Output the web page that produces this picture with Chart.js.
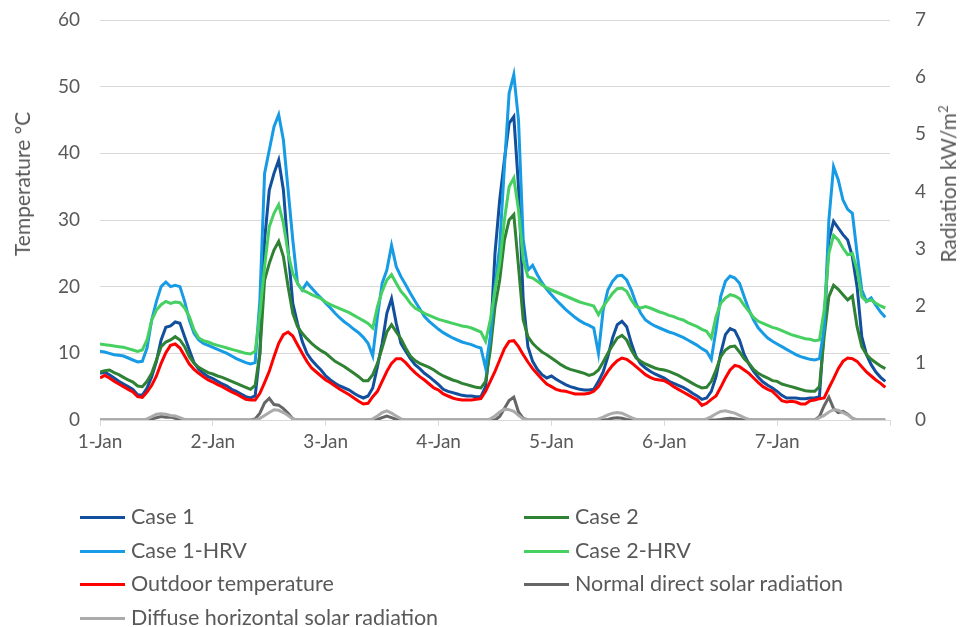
<!DOCTYPE html>
<html>
<head>
<meta charset="utf-8">
<script src="https://cdn.jsdelivr.net/npm/chart.js@4.4.1/dist/chart.umd.min.js"></script>
<style>
    body { margin: 0; background: #fff; }
    #wrap { position: relative; width: 960px; height: 627px; font-family: Lato, "Open Sans", sans-serif; color: #595959; }
    #chart { position: absolute; left: 0; top: 0; }
    .leg { position: absolute; font-size: 21.5px; line-height: 26px; white-space: nowrap; }
    .leg span { display: inline-block; width: 45px; height: 3px; vertical-align: middle; margin-right: 6px; margin-top: -2px; }
    .axis-title { position: absolute; font-size: 21px; line-height: 24px; white-space: nowrap; transform: translate(-50%, -50%) rotate(-90deg); }
    .axis-title sup { font-size: 13px; vertical-align: 8px; line-height: 0; }
</style>
</head>
<body>
<div id="wrap">
    <canvas id="chart" width="960" height="627"></canvas>
    <div class="axis-title" style="left: 22px; top: 184px;">Temperature ºC</div>
    <div class="axis-title" style="left: 948px; top: 184px;">Radiation kW/m<sup>2</sup></div>
    <div id="legend"></div>
</div>
<script>
// x axis: 7 days, hourly values
const dayLabels = ['1-Jan', '2-Jan', '3-Jan', '4-Jan', '5-Jan', '6-Jan', '7-Jan'];

// indoor / outdoor temperatures (ºC), one line per day
const case1 = [
    7.0, 7.2, 6.8, 6.3, 5.8, 5.4, 5.0, 4.6, 3.8, 3.7, 4.8, 6.5, 8.8, 12.0, 13.9, 14.1, 14.7, 14.5, 12.5, 10.5, 8.6, 7.6, 7.0, 6.5,
    6.2, 5.8, 5.4, 5.1, 4.6, 4.3, 3.9, 3.5, 3.3, 3.6, 10.0, 27.0, 34.5, 37.0, 39.0, 34.5, 25.5, 17.5, 14.5, 11.8, 10.0, 9.0, 8.2, 7.5,
    6.6, 6.0, 5.5, 5.1, 4.8, 4.5, 4.0, 3.6, 3.3, 3.6, 4.8, 8.0, 11.5, 16.0, 18.2, 14.5, 11.5, 10.3, 9.2, 8.3, 7.7, 7.0, 6.5, 5.9,
    5.3, 4.6, 4.3, 4.1, 3.9, 3.7, 3.6, 3.6, 3.5, 3.5, 5.0, 12.0, 25.0, 33.0, 39.0, 44.5, 45.5, 35.0, 18.0, 11.0, 8.8, 7.6, 6.8, 6.3,
    6.6, 6.1, 5.7, 5.3, 5.0, 4.8, 4.6, 4.5, 4.5, 4.6, 5.8, 7.2, 9.5, 12.3, 14.3, 14.8, 14.0, 11.5, 9.5, 8.4, 7.8, 7.3, 6.9, 6.6,
    6.3, 5.8, 5.5, 5.2, 4.9, 4.5, 4.0, 3.6, 3.1, 3.3, 4.3, 6.5, 10.0, 12.8, 13.7, 13.4, 12.0, 9.8, 8.4, 7.3, 6.4, 5.7, 5.2, 4.8,
    4.3, 3.7, 3.3, 3.3, 3.3, 3.2, 3.2, 3.3, 3.3, 3.5, 14.0, 27.0, 29.8, 28.8, 27.8, 27.0, 24.5, 20.0, 12.5, 9.8, 8.3, 7.2, 6.4, 5.8
];
const case2 = [
    7.2, 7.4, 7.5, 7.1, 6.8, 6.4, 6.0, 5.7, 5.1, 5.0, 5.8, 7.0, 9.0, 11.0, 11.7, 12.0, 12.5, 12.0, 11.0, 9.5, 8.5, 7.9, 7.5, 7.1,
    6.9, 6.6, 6.4, 6.1, 5.8, 5.5, 5.2, 4.9, 4.6, 5.2, 10.0, 21.0, 23.5, 25.5, 26.8, 24.5, 20.0, 16.0, 14.0, 13.0, 12.2, 11.5, 10.9, 10.4,
    10.0, 9.4, 8.8, 8.4, 8.0, 7.5, 7.0, 6.5, 5.9, 5.9, 6.8, 8.5, 10.8, 13.2, 14.3, 13.2, 12.2, 10.8, 9.6, 8.9, 8.5, 8.2, 7.9, 7.5,
    7.0, 6.6, 6.3, 6.0, 5.8, 5.5, 5.3, 5.1, 4.9, 4.8, 5.8, 10.5, 17.0, 21.0, 27.0, 30.0, 30.8, 23.0, 15.0, 12.5, 11.5, 10.8, 10.2, 9.8,
    9.3, 8.8, 8.3, 7.9, 7.6, 7.4, 7.2, 7.0, 6.7, 6.9, 7.5, 8.7, 10.0, 11.2, 12.3, 12.7, 12.0, 10.5, 9.3, 8.8, 8.4, 8.1, 7.8, 7.6,
    7.5, 7.3, 7.0, 6.7, 6.3, 5.9, 5.5, 5.1, 4.8, 4.9, 5.8, 7.5, 9.5, 10.5, 11.0, 11.1, 10.2, 9.2, 8.5, 7.6, 7.0, 6.6, 6.3, 5.9,
    5.8, 5.4, 5.2, 5.0, 4.8, 4.6, 4.4, 4.3, 4.3, 5.0, 12.5, 18.5, 20.2, 19.6, 18.8, 18.0, 18.6, 14.0, 11.0, 9.8, 9.1, 8.6, 8.1, 7.7
];
const case1Hrv = [
    10.3, 10.2, 10.0, 9.8, 9.7, 9.6, 9.3, 9.0, 8.7, 8.8, 10.8, 15.0, 17.8, 20.0, 20.7, 20.0, 20.2, 20.0, 17.8, 15.0, 13.0, 12.0, 11.5, 11.2,
    10.9, 10.6, 10.3, 10.0, 9.6, 9.2, 8.9, 8.6, 8.4, 8.6, 18.0, 37.0, 40.5, 44.0, 45.8, 42.0, 34.5, 27.0, 20.5, 19.5, 20.6, 19.8, 19.0, 18.3,
    17.5, 16.8, 16.0, 15.3, 14.7, 14.2, 13.6, 13.1, 12.4, 11.5, 9.6, 15.5, 20.5, 22.5, 26.2, 23.0, 21.5, 20.3, 19.0, 17.8, 16.7, 15.5, 14.8, 14.2,
    13.6, 13.1, 12.7, 12.3, 12.0, 11.7, 11.5, 11.3, 11.0, 10.8, 7.8, 12.5, 20.0, 26.0, 38.0, 49.0, 51.8, 45.0, 27.0, 22.5, 23.2, 21.8, 20.6, 19.6,
    18.8, 18.0, 17.3, 16.6, 16.0, 15.4, 14.9, 14.5, 14.2, 13.8, 10.0, 16.5, 19.5, 20.8, 21.6, 21.7, 21.0, 19.5, 17.5, 16.0, 15.0, 14.5, 14.1, 13.8,
    13.5, 13.2, 13.0, 12.7, 12.4, 12.0, 11.6, 11.2, 10.7, 10.3, 9.1, 13.5, 18.5, 20.8, 21.6, 21.3, 20.5, 18.5, 16.5, 15.0, 13.8, 13.0, 12.3, 11.8,
    11.4, 11.0, 10.6, 10.2, 9.8, 9.5, 9.3, 9.1, 9.0, 9.2, 13.8, 30.0, 38.0, 36.0, 33.0, 31.6, 31.0, 25.0, 19.5, 17.8, 18.3, 17.2, 16.2, 15.4
];
const case2Hrv = [
    11.4, 11.3, 11.2, 11.1, 11.0, 10.9, 10.7, 10.5, 10.3, 10.5, 12.0, 15.0, 16.5, 17.3, 17.8, 17.5, 17.7, 17.6, 16.8, 15.5, 13.5, 12.3, 11.9, 11.7,
    11.4, 11.2, 11.0, 10.8, 10.6, 10.4, 10.2, 10.0, 9.9, 10.3, 16.0, 23.0, 29.0, 31.0, 32.3, 29.5, 25.0, 22.0, 20.5, 19.5, 19.2, 18.8, 18.5, 18.2,
    17.7, 17.3, 17.0, 16.7, 16.4, 16.1, 15.7, 15.3, 14.9, 14.5, 13.8, 17.0, 19.3, 21.0, 21.8, 20.5, 19.3, 18.5, 17.5, 16.8, 16.4, 16.0, 15.7, 15.4,
    15.1, 14.9, 14.7, 14.5, 14.3, 14.1, 14.0, 13.8, 13.5, 13.2, 11.8, 15.0, 19.5, 23.5, 30.0, 35.0, 36.3, 31.5, 24.0, 21.5, 21.3, 20.8, 20.3, 19.8,
    19.5, 19.2, 18.9, 18.6, 18.3, 18.0, 17.7, 17.5, 17.3, 17.1, 15.8, 17.0, 18.0, 19.0, 19.7, 19.8, 19.3, 18.0, 17.0, 16.8, 17.0, 16.8, 16.5, 16.2,
    16.0, 15.7, 15.5, 15.2, 15.0, 14.6, 14.3, 14.0, 13.6, 13.3, 12.3, 15.5, 17.5, 18.3, 18.8, 18.6, 18.2, 17.2, 16.3, 15.4, 14.8, 14.5, 14.2, 13.9,
    13.7, 13.4, 13.1, 12.8, 12.6, 12.4, 12.2, 12.1, 11.9, 12.0, 16.5, 25.0, 27.7, 27.0, 25.8, 24.8, 25.0, 22.5, 18.5, 17.8, 18.0, 17.5, 17.1, 16.8
];
const outdoorTemp = [
    6.3, 6.7, 6.3, 5.8, 5.4, 5.0, 4.6, 4.2, 3.5, 3.4, 4.2, 5.2, 6.6, 8.5, 10.1, 11.2, 11.4, 10.8, 9.6, 8.4, 7.6, 7.0, 6.5, 6.0,
    5.7, 5.3, 5.0, 4.6, 4.2, 3.9, 3.5, 3.1, 3.0, 3.0, 4.0, 5.6, 7.3, 9.5, 11.5, 12.8, 13.2, 12.6, 11.3, 10.0, 8.8, 7.8, 7.2, 6.6,
    6.0, 5.6, 5.1, 4.6, 4.2, 3.8, 3.3, 2.8, 2.4, 2.5, 3.5, 4.3, 5.8, 7.3, 8.5, 9.2, 9.2, 8.6, 7.8, 7.1, 6.5, 6.0, 5.4, 4.8,
    4.5, 3.9, 3.6, 3.3, 3.1, 3.0, 3.0, 3.0, 3.1, 3.2, 4.3, 5.8, 7.3, 9.0, 10.7, 11.8, 11.9, 11.0, 9.8, 8.7, 7.7, 6.9, 6.1, 5.4,
    5.0, 4.6, 4.4, 4.3, 4.1, 3.9, 3.9, 3.9, 4.0, 4.3, 5.0, 6.2, 7.3, 8.2, 8.9, 9.3, 9.1, 8.6, 8.0, 7.4, 6.8, 6.4, 6.1, 6.0,
    5.9, 5.5, 5.0, 4.6, 4.2, 3.8, 3.4, 3.0, 2.2, 2.5, 3.1, 3.6, 4.9, 6.3, 7.5, 8.2, 8.0, 7.5, 7.0, 6.3, 5.6, 5.0, 4.6, 4.3,
    3.6, 2.9, 2.7, 2.8, 2.7, 2.4, 2.4, 2.9, 3.0, 3.2, 3.3, 4.8, 6.2, 7.7, 8.8, 9.3, 9.2, 8.8, 8.0, 7.2, 6.6, 6.0, 5.5, 4.9
];

// solar radiation (kW/m²)
const directRad = [
    0, 0, 0, 0, 0, 0, 0, 0, 0, 0, 0, 0.02, 0.04, 0.06, 0.05, 0.05, 0.03, 0.01, 0, 0, 0, 0, 0, 0,
    0, 0, 0, 0, 0, 0, 0, 0, 0, 0.02, 0.12, 0.3, 0.38, 0.27, 0.26, 0.2, 0.12, 0.02, 0, 0, 0, 0, 0, 0,
    0, 0, 0, 0, 0, 0, 0, 0, 0, 0, 0, 0.01, 0.04, 0.07, 0.04, 0.01, 0, 0, 0, 0, 0, 0, 0, 0,
    0, 0, 0, 0, 0, 0, 0, 0, 0, 0, 0, 0, 0, 0.06, 0.2, 0.34, 0.4, 0.14, 0.03, 0, 0, 0, 0, 0,
    0, 0, 0, 0, 0, 0, 0, 0, 0, 0, 0, 0, 0.01, 0.03, 0.04, 0.03, 0.01, 0, 0, 0, 0, 0, 0, 0,
    0, 0, 0, 0, 0, 0, 0, 0, 0, 0, 0, 0, 0.01, 0.02, 0.03, 0.02, 0.01, 0, 0, 0, 0, 0, 0, 0,
    0, 0, 0, 0, 0, 0, 0, 0, 0, 0.06, 0.25, 0.4, 0.2, 0.13, 0.15, 0.1, 0.03, 0, 0, 0, 0, 0, 0, 0
];
const diffuseRad = [
    0, 0, 0, 0, 0, 0, 0, 0, 0, 0, 0.02, 0.06, 0.1, 0.11, 0.1, 0.08, 0.07, 0.04, 0.01, 0, 0, 0, 0, 0,
    0, 0, 0, 0, 0, 0, 0, 0, 0, 0, 0.03, 0.08, 0.13, 0.18, 0.17, 0.13, 0.08, 0.02, 0, 0, 0, 0, 0, 0,
    0, 0, 0, 0, 0, 0, 0, 0, 0, 0, 0.02, 0.07, 0.13, 0.16, 0.12, 0.07, 0.02, 0, 0, 0, 0, 0, 0, 0,
    0, 0, 0, 0, 0, 0, 0, 0, 0, 0, 0, 0.02, 0.07, 0.14, 0.19, 0.18, 0.15, 0.08, 0.02, 0, 0, 0, 0, 0,
    0, 0, 0, 0, 0, 0, 0, 0, 0, 0, 0.02, 0.05, 0.09, 0.12, 0.13, 0.12, 0.08, 0.04, 0.01, 0, 0, 0, 0, 0,
    0, 0, 0, 0, 0, 0, 0, 0, 0, 0.02, 0.06, 0.11, 0.15, 0.16, 0.14, 0.12, 0.08, 0.04, 0.01, 0, 0, 0, 0, 0,
    0, 0, 0, 0, 0, 0, 0, 0, 0, 0.04, 0.08, 0.14, 0.18, 0.17, 0.13, 0.09, 0.03, 0, 0, 0, 0, 0, 0, 0
];

const textColor = '#595959';
const gridColor = '#d9d9d9';

function toPoints(values) {
    return values.map(function (v, i) { return { x: i, y: v }; });
}

// value axes: fixed width, and drop the label/padding overhang so the plot top sits at y=20
function fixWidth(width) {
    return function (scale) {
        scale.width = width;
        scale.paddingTop = 0;
        scale.paddingBottom = 0;
    };
}

// order: lower number is drawn on top (same stacking as the original)
const series = [
    { label: 'Case 1', data: case1, color: '#124f9d', axis: 'y', order: 7 },
    { label: 'Case 2', data: case2, color: '#2f8134', axis: 'y', order: 6 },
    { label: 'Case 1-HRV', data: case1Hrv, color: '#179be5', axis: 'y', order: 5 },
    { label: 'Case 2-HRV', data: case2Hrv, color: '#47d062', axis: 'y', order: 4 },
    { label: 'Outdoor temperature', data: outdoorTemp, color: '#ff0000', axis: 'y', order: 3 },
    { label: 'Normal direct solar radiation', data: directRad, color: '#666666', axis: 'y1', order: 2 },
    { label: 'Diffuse horizontal solar radiation', data: diffuseRad, color: '#ababab', axis: 'y1', order: 1 }
];

new Chart(document.getElementById('chart'), {
    type: 'line',
    data: {
        datasets: series.map(function (s) {
            return {
                label: s.label,
                data: toPoints(s.data),
                borderColor: s.color,
                backgroundColor: s.color,
                borderWidth: 3,
                pointRadius: 0,
                tension: 0,
                yAxisID: s.axis,
                order: s.order
            };
        })
    },
    options: {
        responsive: false,
        animation: false,
        layout: { padding: { top: 20, left: 0, right: 0, bottom: 0 } },
        plugins: {
            legend: { display: false },
            tooltip: { enabled: false }
        },
        scales: {
            x: {
                type: 'linear',
                min: 0,
                max: 168,
                afterFit: function (scale) { scale.height = 207; },
                ticks: {
                    stepSize: 24,
                    autoSkip: false,
                    maxRotation: 0,
                    padding: 4,
                    color: textColor,
                    font: { family: 'Lato', size: 19 },
                    callback: function (value) { return dayLabels[value / 24] || ''; }
                },
                grid: { drawOnChartArea: false, tickLength: 6, color: gridColor },
                border: { color: gridColor, width: 1 }
            },
            y: {
                position: 'left',
                min: 0,
                max: 60,
                afterFit: fixWidth(100),
                ticks: { stepSize: 10, padding: 20, color: textColor, font: { family: 'Lato', size: 19 } },
                grid: { color: gridColor, drawTicks: false },
                border: { display: false }
            },
            y1: {
                position: 'right',
                min: 0,
                max: 7,
                afterFit: fixWidth(70),
                ticks: { stepSize: 1, padding: 25, color: textColor, font: { family: 'Lato', size: 19 } },
                grid: { display: false, drawTicks: false },
                border: { display: false }
            }
        }
    }
});

// two-column legend below the plot
const legendPos = [[80, 503], [524, 503], [80, 537], [524, 537], [80, 570], [524, 570], [80, 604]];
const legendBox = document.getElementById('legend');
series.forEach(function (s, i) {
    const item = document.createElement('div');
    item.className = 'leg';
    item.style.left = legendPos[i][0] + 'px';
    item.style.top = legendPos[i][1] + 'px';
    item.innerHTML = '<span style="background:' + s.color + '"></span>' + s.label;
    legendBox.appendChild(item);
});
</script>
</body>
</html>
